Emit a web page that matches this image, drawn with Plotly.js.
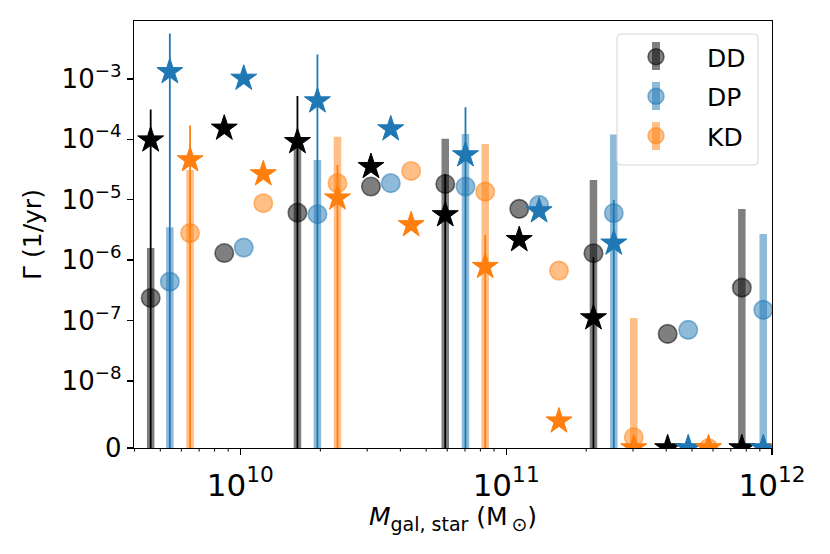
<!DOCTYPE html>
<html><head><meta charset="utf-8">
<script src="https://cdn.plot.ly/plotly-3.0.1.min.js"></script>
<style>html,body{margin:0;padding:0;background:#fff}#chart{width:830px;height:554px}</style>
</head><body><div id="chart"></div>
<script>
// ---- data ----
const seriesNames = ['DD', 'DP', 'KD'];
const massDD = [4.6e9, 8.7e9, 1.64e10, 3.1e10, 5.9e10, 1.12e11, 2.13e11, 4.05e11, 7.7e11];
const massDP = [5.43e9, 1.03e10, 1.95e10, 3.68e10, 7.03e10, 1.33e11, 2.54e11, 4.84e11, 9.27e11];
const massKD = [6.47e9, 1.22e10, 2.32e10, 4.39e10, 8.34e10, 1.58e11, 3.02e11, 5.77e11, 1.1e12];

const circDD   = [2.36e-7, 1.31e-6, 6.1e-6, 1.65e-5, 1.82e-5, 7.05e-6, 1.3e-6, 6.0e-8, 3.5e-7];
const circDDhi = [1.58e-6, null, 8.0e-5, null, 1.02e-4, null, 2.12e-5, null, 7.0e-6];
const starDD   = [9.7e-5, 1.52e-4, 9.1e-5, 3.52e-5, 5.6e-6, 2.17e-6, 1.1e-7, 0, 0];
const starDDhi = [3.13e-4, null, 5.2e-4, null, 2.67e-5, null, 1.12e-6, null, null];

const circDP   = [4.4e-7, 1.61e-6, 5.75e-6, 1.88e-5, 1.65e-5, 8.2e-6, 6.0e-6, 7.0e-8, 1.5e-7];
const circDPhi = [3.5e-6, null, 4.55e-5, null, 1.22e-4, null, 1.2e-4, null, 2.7e-6];
const starDP   = [1.31e-3, 1.02e-3, 4.3e-4, 1.48e-4, 5.5e-5, 6.5e-6, 1.9e-6, 0, 0];
const starDPhi = [5.65e-3, null, 2.54e-3, null, 3.38e-4, null, 9.9e-6, null, null];

const circKD   = [2.8e-6, 8.75e-6, 1.88e-5, 2.99e-5, 1.36e-5, 6.7e-7, 1.6e-9, 0, 0];
const circKDhi = [3.1e-5, null, 1.1e-4, null, 8.4e-5, null, 1.1e-7, null, null];
const starKD   = [4.55e-5, 2.67e-5, 1.06e-5, 3.83e-6, 7.8e-7, 4.0e-9, 0, 0, 0];
const starKDhi = [1.7e-4, null, 3.76e-5, null, 2.62e-6, null, null, null, null];

const xTickValues = [1e10, 1e11, 1e12];
const xTickLabels = ['10<sup>10</sup>', '10<sup>11</sup>', '10<sup>12</sup>'];
const xMinorTickValues = [4e9, 5e9, 6e9, 7e9, 8e9, 9e9,
                          2e10, 3e10, 4e10, 5e10, 6e10, 7e10, 8e10, 9e10,
                          2e11, 3e11, 4e11, 5e11, 6e11, 7e11, 8e11, 9e11];
const yTickValues = [0, 1e-8, 1e-7, 1e-6, 1e-5, 1e-4, 1e-3];
const yTickLabels = ['0', '10<sup>\u22128</sup>', '10<sup>\u22127</sup>', '10<sup>\u22126</sup>',
                     '10<sup>\u22125</sup>', '10<sup>\u22124</sup>', '10<sup>\u22123</sup>'];

// ---- symmetric-log scale (linthresh 1e-8, linscale 1, like matplotlib) ----
const LINTHRESH = 1e-8;
const LINSCALE = 1 / (1 - 1 / 10);
function symlog(v) {
  return v > LINTHRESH ? LINSCALE + Math.log10(v / LINTHRESH) : LINSCALE * v / LINTHRESH;
}

const colors = {
  DD: [0, 0, 0],
  DP: [31, 119, 180],
  KD: [255, 127, 14]
};
function rgba(c, a) { return 'rgba(' + c[0] + ',' + c[1] + ',' + c[2] + ',' + a + ')'; }

function errArrays(vals, his) {
  const plus = [], minus = [];
  vals.forEach((v, i) => {
    if (his[i] === null) { plus.push(0); minus.push(0); }
    else { plus.push(symlog(his[i]) - symlog(v)); minus.push(symlog(v) - symlog(0)); }
  });
  return { plus, minus };
}

const groups = [
  { name: 'DD', x: massDD, circ: circDD, circHi: circDDhi, star: starDD, starHi: starDDhi },
  { name: 'DP', x: massDP, circ: circDP, circHi: circDPhi, star: starDP, starHi: starDPhi },
  { name: 'KD', x: massKD, circ: circKD, circHi: circKDhi, star: starKD, starHi: starKDhi }
];

const traces = [];
groups.forEach(g => {
  const c = colors[g.name];
  const ec = errArrays(g.circ, g.circHi);
  traces.push({
    type: 'scatter', mode: 'markers', name: g.name, legendgroup: g.name,
    x: g.x, y: g.circ.map(symlog),
    marker: { symbol: 'circle', size: 18.5, color: rgba(c, 0.5), line: { color: rgba(c, 0.5), width: 1.6 } },
    error_y: { type: 'data', symmetric: false, array: ec.plus, arrayminus: ec.minus,
               color: rgba(c, 0.5), thickness: 7.5, width: 0 },
    hoverinfo: 'skip'
  });
  const es = errArrays(g.star, g.starHi);
  traces.push({
    type: 'scatter', mode: 'markers', name: g.name + ' (star)', legendgroup: g.name, showlegend: false,
    x: g.x, y: g.star.map(symlog),
    marker: { symbol: 'star', size: 19.5, color: rgba(c, 1), line: { color: rgba(c, 1), width: 1 } },
    error_y: { type: 'data', symmetric: false, array: es.plus, arrayminus: es.minus,
               color: rgba(c, 1), thickness: 1.8, width: 0 },
    hoverinfo: 'skip'
  });
});

const W = 830, H = 554, ML = 134, MR = 58, MT = 21, MB = 106;
const PW = W - ML - MR, PH = H - MT - MB;
const XLOG = [9.6, 12];
const xp = px => (px - ML) / PW;
const yp = py => (H - MB - py) / PH;

// legend frame (rounded) and the thick error-bar strokes of the legend handles
function roundRect(x0, y0, x1, y1, r) {
  const rx = r / PW, ry = r / PH;
  const X0 = xp(x0), X1 = xp(x1), Y0 = yp(y1), Y1 = yp(y0);
  return 'M' + (X0 + rx) + ',' + Y0 + ' L' + (X1 - rx) + ',' + Y0 + ' Q' + X1 + ',' + Y0 + ' ' + X1 + ',' + (Y0 + ry) +
    ' L' + X1 + ',' + (Y1 - ry) + ' Q' + X1 + ',' + Y1 + ' ' + (X1 - rx) + ',' + Y1 +
    ' L' + (X0 + rx) + ',' + Y1 + ' Q' + X0 + ',' + Y1 + ' ' + X0 + ',' + (Y1 - ry) +
    ' L' + X0 + ',' + (Y0 + ry) + ' Q' + X0 + ',' + Y0 + ' ' + (X0 + rx) + ',' + Y0 + ' Z';
}
const legendRows = [56, 96, 136];
const legendHandleX = 656;
const shapes = [{
  type: 'path', xref: 'paper', yref: 'paper', layer: 'above',
  path: roundRect(617, 34, 758, 165, 4),
  fillcolor: 'rgba(255,255,255,0.8)', line: { color: '#d6d6d6', width: 1 }
}];
seriesNames.forEach((n, i) => {
  shapes.push({
    type: 'rect', xref: 'paper', yref: 'paper', layer: 'above',
    x0: xp(legendHandleX - 4), x1: xp(legendHandleX + 4), y0: yp(legendRows[i] + 14), y1: yp(legendRows[i] - 14),
    fillcolor: rgba(colors[n], 0.5), line: { width: 0 }
  });
});
// minor log ticks on the x axis
xMinorTickValues.forEach(v => {
  const f = (Math.log10(v) - XLOG[0]) / (XLOG[1] - XLOG[0]);
  shapes.push({
    type: 'line', xref: 'paper', yref: 'paper', layer: 'above',
    x0: f, x1: f, y0: 0, y1: -3.5 / PH,
    line: { color: '#000', width: 1 }
  });
});

const layout = {
  width: W, height: H,
  margin: { l: ML, r: MR, t: MT, b: MB },
  paper_bgcolor: '#fff', plot_bgcolor: '#fff',
  font: { family: 'DejaVu Sans', color: '#000' },
  showlegend: true,
  legend: {
    x: xp(legendHandleX - 51), y: yp(34), xanchor: 'left', yanchor: 'top',
    bgcolor: 'rgba(0,0,0,0)', borderwidth: 0, itemwidth: 92,
    font: { size: 25, family: 'DejaVu Sans' },
    traceorder: 'grouped', tracegroupgap: 4
  },
  xaxis: {
    type: 'log', range: XLOG,
    tickmode: 'array', tickvals: xTickValues, ticktext: xTickLabels,
    ticks: 'outside', ticklen: 6, tickwidth: 1.3, tickcolor: '#000',
    tickfont: { size: 31 }, ticklabelstandoff: 3,
    showline: true, linewidth: 1.3, linecolor: '#000', mirror: true,
    showgrid: false, zeroline: false,
    title: { text: '<i>M</i><sub><span style="font-size:19px">gal, star</span></sub> (M<sub><span style="font-size:19px">\u2009\u2299</span></sub>)', font: { size: 25 }, standoff: 6 }
  },
  yaxis: {
    range: [0, 7.07],
    tickmode: 'array', tickvals: yTickValues.map(symlog), ticktext: yTickLabels,
    ticks: 'outside', ticklen: 6, tickwidth: 1.3, tickcolor: '#000',
    tickfont: { size: 26 },
    showline: true, linewidth: 1.3, linecolor: '#000', mirror: true,
    showgrid: false, zeroline: false,
    title: { text: '\u0393 (1/yr)', font: { size: 25 }, standoff: 12 }
  },
  shapes: shapes
};

Plotly.newPlot('chart', traces, layout, { staticPlot: true, displayModeBar: false });
</script></body></html>
